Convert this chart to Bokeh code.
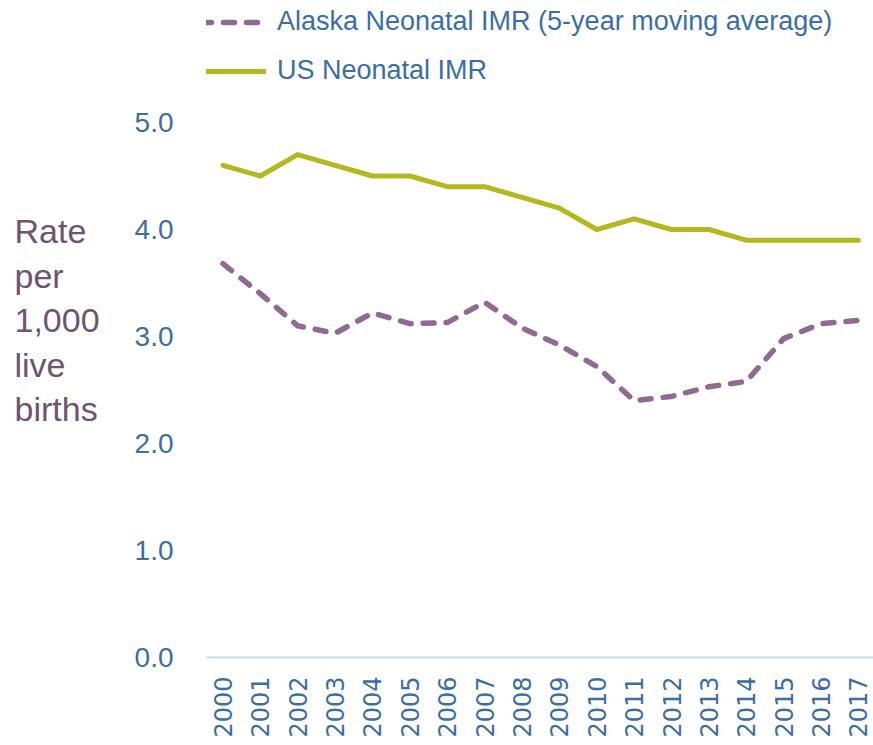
import math
from bokeh.plotting import figure
from bokeh.layouts import row
from bokeh.models import (Range1d, FixedTicker, Legend, LegendItem,
                          NumeralTickFormatter)
from bokeh.core.properties import value
from bokeh.embed import file_html
from bokeh.resources import INLINE

years = list(range(2000, 2018))
year_labels = [str(y) for y in years]
us_imr = [4.6, 4.5, 4.7, 4.6, 4.5, 4.5, 4.4, 4.4, 4.3, 4.2, 4.0, 4.1, 4.0, 4.0,
          3.9, 3.9, 3.9, 3.9]
alaska_imr = [3.68, 3.40, 3.10, 3.03, 3.22, 3.12, 3.13, 3.32, 3.08, 2.92, 2.72,
              2.40, 2.44, 2.53, 2.58, 2.98, 3.12, 3.15]
y_ticks = [0, 1, 2, 3, 4, 5]
ylabel_lines = ["Rate", "per", "1,000", "live", "births"]

BLUE = "#3B6EA5"
PURPLE_TXT = "#6B5570"
US_COL = "#B3B81E"
AK_COL = "#8E6C8F"

W, H = 873, 745
LEFT_W = 120
X0, X1 = 1999.56, 2017.404
Y1 = 6.14
yr = Range1d(0, Y1)

# ---- left strip holding the horizontal y-axis title ----
t = figure(width=LEFT_W, height=H, output_backend="svg", toolbar_location=None,
           x_range=Range1d(0, LEFT_W), y_range=yr,
           x_axis_location=None, y_axis_location=None,
           min_border_left=0, min_border_right=0, min_border_top=0,
           min_border_bottom=88)
t.outline_line_color = None
t.xgrid.visible = False
t.ygrid.visible = False
px_per_unit = 107.0
baselines_px = [231, 276, 320, 365, 409]
t.text(x=[14] * len(ylabel_lines),
       y=[(657 - b) / px_per_unit for b in baselines_px],
       text=ylabel_lines, text_font=value("Liberation Sans"),
       text_font_size="34px", text_color=PURPLE_TXT,
       text_baseline="alphabetic", text_align="left")

# ---- main chart ----
p = figure(width=W - LEFT_W, height=H, output_backend="svg", toolbar_location=None,
           x_range=Range1d(X0, X1), y_range=yr,
           min_border_left=206 - LEFT_W, min_border_right=0, min_border_top=0,
           min_border_bottom=88)
p.outline_line_color = None
p.xgrid.visible = False
p.ygrid.visible = False

r_ak = p.line(years, alaska_imr, line_color=AK_COL, line_width=5.5,
              line_dash="11 12", line_cap="round", line_join="round")
r_us = p.line(years, us_imr, line_color=US_COL, line_width=5,
              line_cap="round", line_join="round")

xa = p.xaxis[0]
xa.ticker = FixedTicker(ticks=years)
xa.major_label_overrides = {y: s for y, s in zip(years, year_labels)}
xa.major_label_orientation = math.pi / 2
xa.major_label_text_font = "DejaVu Sans"
xa.major_label_text_font_size = "24px"
xa.major_label_text_color = BLUE
xa.major_label_standoff = 13
xa.major_tick_line_color = None
xa.minor_tick_line_color = None
xa.axis_line_color = "#C9DCEC"
xa.axis_line_width = 2

ya = p.yaxis[0]
ya.ticker = FixedTicker(ticks=y_ticks)
ya.formatter = NumeralTickFormatter(format="0.0")
ya.major_label_text_font = "Liberation Sans"
ya.major_label_text_font_size = "28px"
ya.major_label_text_color = BLUE
ya.major_label_standoff = 27
ya.major_tick_line_color = None
ya.minor_tick_line_color = None
ya.axis_line_color = None

legend = Legend(items=[
    LegendItem(label="Alaska Neonatal IMR (5-year moving average)", renderers=[r_ak]),
    LegendItem(label="US Neonatal IMR", renderers=[r_us]),
], location=(-6, 571), orientation="vertical")
legend.background_fill_alpha = 0
legend.border_line_color = None
legend.padding = 0
legend.margin = 0
legend.spacing = 18
legend.glyph_width = 66
legend.glyph_height = 26
legend.label_height = 26
legend.label_standoff = 11
legend.label_text_font = "Liberation Sans"
legend.label_text_font_size = "27px"
legend.label_text_color = BLUE
p.add_layout(legend, "center")

layout = row(t, p, spacing=0)
open("out.html", "w").write(file_html(layout, INLINE))
